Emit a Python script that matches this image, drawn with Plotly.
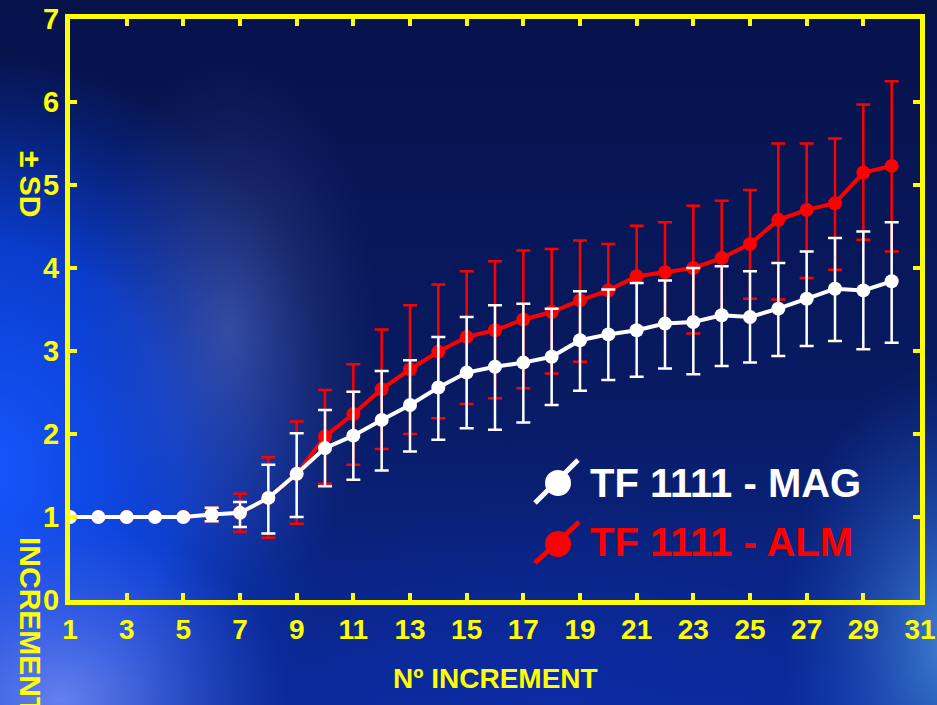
import base64
import plotly.graph_objects as go

# ---------------- data ----------------
increments = list(range(1, 31))

mag_mean = [1.00, 1.00, 1.00, 1.00, 1.00, 1.03, 1.05, 1.23, 1.52, 1.83,
            1.98, 2.17, 2.35, 2.56, 2.74, 2.81, 2.86, 2.93, 3.13, 3.20,
            3.25, 3.33, 3.35, 3.43, 3.41, 3.51, 3.63, 3.75, 3.73, 3.84]
mag_upper = [1.00, 1.00, 1.00, 1.00, 1.00, 1.11, 1.18, 1.63, 2.01, 2.29,
             2.51, 2.76, 2.89, 3.17, 3.41, 3.55, 3.57, 3.51, 3.72, 3.74,
             3.82, 3.85, 4.00, 4.02, 3.96, 4.06, 4.20, 4.36, 4.44, 4.55]
mag_lower = [1.00, 1.00, 1.00, 1.00, 1.00, 0.95, 0.88, 0.80, 1.00, 1.37,
             1.45, 1.56, 1.79, 1.93, 2.07, 2.05, 2.14, 2.35, 2.52, 2.65,
             2.69, 2.79, 2.72, 2.82, 2.86, 2.94, 3.06, 3.12, 3.02, 3.10]

alm_mean = [1.00, 1.00, 1.00, 1.00, 1.00, 1.03, 1.05, 1.23, 1.52, 1.97,
            2.24, 2.54, 2.78, 2.99, 3.17, 3.25, 3.38, 3.47, 3.61, 3.73,
            3.90, 3.95, 4.00, 4.12, 4.29, 4.58, 4.70, 4.78, 5.15, 5.23]
alm_upper = [1.00, 1.00, 1.00, 1.00, 1.00, 1.11, 1.28, 1.72, 2.15, 2.53,
             2.84, 3.26, 3.55, 3.80, 3.96, 4.08, 4.21, 4.23, 4.33, 4.29,
             4.51, 4.55, 4.75, 4.81, 4.94, 5.50, 5.50, 5.56, 5.97, 6.25]
alm_lower = [1.00, 1.00, 1.00, 1.00, 1.00, 0.95, 0.82, 0.75, 0.92, 1.40,
             1.63, 1.82, 2.00, 2.19, 2.36, 2.43, 2.55, 2.73, 2.87, 3.17,
             3.29, 3.35, 3.21, 3.43, 3.63, 3.62, 3.88, 3.98, 4.34, 4.20]

x_tickvals = list(range(1, 32, 2))
y_tickvals = list(range(0, 8))
series_names = ["TF 1111 - MAG", "TF 1111 - ALM"]
x_title = "Nº INCREMENT"
y_title_parts = ["± SD", "INCREMENT"]

# ---------------- styling ----------------
W, H = 937, 705
L, R, T, B = 70, 17, 19, 105
PW, PH = W - L - R, H - T - B
YEL = "#ffff00"
RED = "#ff0000"
WHITE = "#ffffff"
FONT = "Liberation Sans, Arial, sans-serif"


def px(xp):
    return (xp - L) / PW


def py(yp):
    return (H - B - yp) / PH


def errs(mean, upper, lower):
    plus = [round(u - m, 3) for u, m in zip(upper, mean)]
    minus = [round(m - l, 3) for m, l in zip(mean, lower)]
    return plus, minus


# background image (gradient) as inline SVG
svg = f'''<svg xmlns="http://www.w3.org/2000/svg" width="{W}" height="{H}" viewBox="0 0 {W} {H}" preserveAspectRatio="none">
<defs>
<linearGradient id="v" x1="0" y1="0" x2="0" y2="1">
<stop offset="0" stop-color="#06124a"/>
<stop offset="0.55" stop-color="#081a62"/>
<stop offset="1" stop-color="#0b2a95"/>
</linearGradient>
<radialGradient id="gl"><stop offset="0" stop-color="#1858ff" stop-opacity="1"/><stop offset="0.55" stop-color="#0a48f0" stop-opacity="0.75"/><stop offset="1" stop-color="#0838c0" stop-opacity="0"/></radialGradient>
<radialGradient id="gb"><stop offset="0" stop-color="#7088f0" stop-opacity="0.9"/><stop offset="1" stop-color="#4a66e0" stop-opacity="0"/></radialGradient>
<radialGradient id="gs"><stop offset="0" stop-color="#6070b8" stop-opacity="0.5"/><stop offset="1" stop-color="#3a4a98" stop-opacity="0"/></radialGradient>
<radialGradient id="gr"><stop offset="0" stop-color="#4a90e0" stop-opacity="0.85"/><stop offset="1" stop-color="#1a50c0" stop-opacity="0"/></radialGradient>
<radialGradient id="gc"><stop offset="0" stop-color="#0c2cb0" stop-opacity="0.6"/><stop offset="1" stop-color="#0c2cb0" stop-opacity="0"/></radialGradient>
</defs>
<rect x="0" y="0" width="{W}" height="{H}" fill="url(#v)"/>
<ellipse cx="-20" cy="470" rx="360" ry="420" fill="url(#gl)"/>
<ellipse cx="230" cy="330" rx="150" ry="270" fill="url(#gs)"/>
<ellipse cx="60" cy="700" rx="230" ry="180" fill="url(#gb)"/>
<ellipse cx="560" cy="700" rx="420" ry="200" fill="url(#gc)"/>
<ellipse cx="950" cy="640" rx="170" ry="280" fill="url(#gr)"/>
</svg>'''
bg_src = "data:image/svg+xml;base64," + base64.b64encode(svg.encode()).decode()

fig = go.Figure()

for name, mean, upper, lower, color in [
    (series_names[1], alm_mean, alm_upper, alm_lower, RED),
    (series_names[0], mag_mean, mag_upper, mag_lower, WHITE),
]:
    plus, minus = errs(mean, upper, lower)
    fig.add_trace(go.Scatter(
        x=increments, y=mean, name=name, mode="lines+markers",
        line=dict(color=color, width=4),
        marker=dict(color=color, size=14),
        error_y=dict(type="data", symmetric=False, array=plus, arrayminus=minus,
                     color=color, thickness=2.5, width=7),
        showlegend=False,
    ))

axis_common = dict(
    showline=True, linecolor=YEL, linewidth=5, mirror="allticks",
    ticks="inside", ticklen=7, tickwidth=4, tickcolor=YEL,
    showgrid=False, zeroline=False, automargin=False,
)

fig.update_xaxes(range=[1, 31], tickvals=x_tickvals,
                 tickfont=dict(family=FONT, size=28, color=YEL, weight="bold"),
                 **axis_common)
fig.update_yaxes(range=[0, 7], tickvals=y_tickvals,
                 tickfont=dict(family=FONT, size=29, color=YEL, weight="bold"),
                 **axis_common)

annotations = [
    dict(text=x_title, x=px(495), y=py(678), xref="paper", yref="paper",
         xanchor="center", yanchor="middle", showarrow=False,
         font=dict(family=FONT, size=28, color=YEL, weight="bold")),
    dict(text=y_title_parts[0], x=px(31), y=py(184), xref="paper", yref="paper",
         xanchor="center", yanchor="middle", showarrow=False, textangle=90,
         font=dict(family=FONT, size=30, color=YEL, weight="bold")),
    dict(text=y_title_parts[1], x=px(31), y=py(535), xref="paper", yref="paper",
         xanchor="center", yanchor="top", showarrow=False, textangle=90,
         font=dict(family=FONT, size=30, color=YEL, weight="bold")),
    dict(text=series_names[0], x=px(588), y=py(483), xref="paper", yref="paper",
         xanchor="left", yanchor="middle", showarrow=False,
         font=dict(family=FONT, size=40, color=WHITE, weight="bold")),
    dict(text=series_names[1], x=px(588), y=py(542), xref="paper", yref="paper",
         xanchor="left", yanchor="middle", showarrow=False,
         font=dict(family=FONT, size=40, color=RED, weight="bold")),
]

shapes = []
for (cx, cy, lx0, ly0, lx1, ly1, col) in [
    (558, 483, 535, 503, 578, 460, WHITE),
    (558, 544, 535, 563, 579, 522, RED),
]:
    shapes.append(dict(type="line", xref="paper", yref="paper",
                       x0=px(lx0), y0=py(ly0), x1=px(lx1), y1=py(ly1),
                       line=dict(color=col, width=5)))
    shapes.append(dict(type="circle", xref="paper", yref="paper",
                       x0=px(cx - 13), x1=px(cx + 13), y0=py(cy + 13), y1=py(cy - 13),
                       fillcolor=col, line=dict(color=col, width=0)))

fig.update_layout(
    width=W, height=H, autosize=False,
    margin=dict(l=L, r=R, t=T, b=B, pad=0, autoexpand=False),
    paper_bgcolor="#081a62",
    plot_bgcolor="rgba(0,0,0,0)",
    annotations=annotations,
    shapes=shapes,
    images=[dict(source=bg_src, xref="paper", yref="paper",
                 x=px(0), y=py(0), sizex=W / PW, sizey=H / PH,
                 xanchor="left", yanchor="top", sizing="stretch", layer="below")],
    showlegend=False,
)

fig.write_html(
    "out.html",
    config={"displayModeBar": False, "responsive": False},
    post_script="document.body.style.margin='0';document.body.style.padding='0';"
                "document.body.style.overflow='hidden';"
                "document.body.style.background='#081a62';",
)
